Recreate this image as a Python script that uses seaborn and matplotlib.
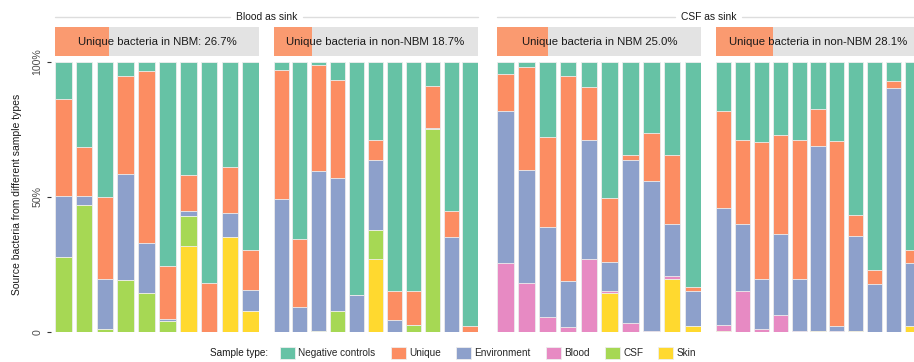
import matplotlib
matplotlib.use("Agg")
import matplotlib.pyplot as plt
from matplotlib.patches import Rectangle, Patch
from matplotlib.lines import Line2D
import pandas as pd
import seaborn as sns

# ---------------------------------------------------------------- data
# stacking order, bottom -> top
sources = ["Skin", "CSF", "Blood", "Environment", "Unique", "Negative controls"]
legend_order = ["Negative controls", "Unique", "Environment", "Blood", "CSF", "Skin"]
palette = {
    "Negative controls": "#66C2A5",
    "Unique": "#FC8D62",
    "Environment": "#8DA0CB",
    "Blood": "#E78AC3",
    "CSF": "#A6D854",
    "Skin": "#FFD92F",
}

sink_titles = ["Blood as sink", "CSF as sink"]
strip_labels = [
    "Unique bacteria in NBM: 26.7%",
    "Unique bacteria in non-NBM 18.7%",
    "Unique bacteria in NBM 25.0%",
    "Unique bacteria in non-NBM 28.1%",
]
unique_pct = [26.7, 18.7, 25.0, 28.1]

# Blood as sink, NBM (10 samples)
blood_nbm_skin = [0, 0, 0, 0, 0, 0, 31.8, 0, 35.2, 7.6]
blood_nbm_csf = [27.6, 46.8, 1.1, 19.1, 14.4, 4.2, 11.2, 0, 0, 0]
blood_nbm_blood = [0, 0, 0, 0, 0, 0, 0, 0, 0, 0]
blood_nbm_env = [22.6, 3.4, 18.6, 39.4, 18.6, 0.7, 1.7, 0, 8.8, 8.0]
blood_nbm_unique = [35.9, 18.3, 30.3, 36.1, 63.6, 19.6, 13.3, 18.2, 17.1, 14.9]
blood_nbm_neg = [13.9, 31.5, 50.0, 5.4, 3.4, 75.5, 42.0, 81.8, 38.9, 69.5]

# Blood as sink, non-NBM (11 samples)
blood_non_skin = [0, 0, 0, 0, 0, 27.1, 0, 0, 0, 0, 0]
blood_non_csf = [0, 0, 0.5, 7.6, 0, 10.7, 0, 2.5, 75.1, 0, 0]
blood_non_blood = [0, 0, 0, 0, 0, 0, 0, 0, 0, 0, 0]
blood_non_env = [49.3, 9.2, 58.9, 49.5, 13.8, 26.0, 4.6, 0, 0.5, 35.1, 0]
blood_non_unique = [47.6, 25.2, 39.2, 36.2, 0, 7.1, 10.4, 12.5, 15.5, 9.5, 2.1]
blood_non_neg = [3.1, 65.6, 1.4, 6.7, 86.2, 29.1, 85.0, 85.0, 8.9, 55.4, 97.9]

# CSF as sink, NBM (10 samples)
csf_nbm_skin = [0, 0, 0, 0, 0, 14.4, 0, 0, 19.5, 2.2]
csf_nbm_csf = [0, 0, 0, 0, 0, 0, 0, 0, 0, 0]
csf_nbm_blood = [25.4, 18.2, 5.4, 1.7, 27.1, 0.9, 3.2, 0.2, 1.4, 0]
csf_nbm_env = [56.3, 41.9, 33.4, 17.0, 44.0, 10.6, 60.3, 55.6, 19.1, 13.1]
csf_nbm_unique = [13.9, 38.1, 33.2, 76.0, 19.4, 23.7, 1.9, 17.7, 25.4, 1.2]
csf_nbm_neg = [4.4, 1.8, 28.0, 5.3, 9.5, 50.4, 34.6, 26.5, 34.6, 83.5]

# CSF as sink, non-NBM (11 samples)
csf_non_skin = [0.5, 0, 0, 0, 0, 0.2, 0, 0.5, 0, 0, 2.1]
csf_non_csf = [0, 0, 0, 0, 0, 0, 0, 0, 0, 0, 0]
csf_non_blood = [2.0, 15.1, 1.2, 6.2, 0.5, 0, 0.2, 0, 0, 0, 0]
csf_non_env = [43.2, 24.9, 18.5, 29.9, 19.0, 68.6, 1.9, 35.0, 17.7, 90.4, 23.3]
csf_non_unique = [36.1, 31.2, 50.7, 36.7, 51.4, 13.7, 68.6, 7.8, 5.1, 2.5, 5.0]
csf_non_neg = [18.2, 28.8, 29.6, 27.2, 29.1, 17.5, 29.3, 56.7, 77.2, 7.1, 69.6]

panels = [
    [blood_nbm_skin, blood_nbm_csf, blood_nbm_blood, blood_nbm_env, blood_nbm_unique, blood_nbm_neg],
    [blood_non_skin, blood_non_csf, blood_non_blood, blood_non_env, blood_non_unique, blood_non_neg],
    [csf_nbm_skin, csf_nbm_csf, csf_nbm_blood, csf_nbm_env, csf_nbm_unique, csf_nbm_neg],
    [csf_non_skin, csf_non_csf, csf_non_blood, csf_non_env, csf_non_unique, csf_non_neg],
]

# ---------------------------------------------------------------- style
sns.set_theme(style="white")
plt.rcParams["font.family"] = ["Liberation Sans", "DejaVu Sans"]
plt.rcParams["ytick.left"] = True

W, H = 914, 362
fig = plt.figure(figsize=(W / 100, H / 100), dpi=100)

panel_left = [55, 273.5, 497.3, 716]
panel_w = 204
panel_top, panel_bot = 61.7, 332.0
strip_top, strip_bot = 27.3, 56.0
bar_w = 0.8
edge = "#EEEEEE"

ph = panel_bot - panel_top
axes = []
for i, layers in enumerate(panels):
    ax = fig.add_axes([panel_left[i] / W, 1 - panel_bot / H, panel_w / W, ph / H])
    axes.append(ax)
    n = len(layers[0])
    rows = []
    for src, vals in zip(sources, layers):
        for j, v in enumerate(vals):
            rows.append({"sample": str(j), "source": src, "value": v})
    df = pd.DataFrame(rows)
    df["source"] = pd.Categorical(df["source"], sources, ordered=True)
    df = df.sort_values(["sample", "source"])
    df["top"] = df.groupby("sample", observed=True)["value"].cumsum()
    order = [str(j) for j in range(n)]
    # draw cumulative layers from the top of the stack downwards
    for src in reversed(sources):
        sub = df[df["source"] == src]
        sns.barplot(data=sub, x="sample", y="top", order=order, color=palette[src],
                    saturation=1, width=bar_w, edgecolor=edge, linewidth=0.6,
                    errorbar=None, ax=ax)
    ax.set_xlim(-bar_w / 2, n - 1 + bar_w / 2)
    ax.set_ylim(0, 100)
    ax.set_xlabel("")
    ax.set_ylabel("")
    ax.set_xticks([])
    for s in ax.spines.values():
        s.set_visible(False)

    # facet strip with a filled share of unique bacteria
    y0 = 1 + (panel_top - strip_bot) / ph
    sh = (strip_bot - strip_top) / ph
    ax.add_patch(Rectangle((0, y0), 1, sh, transform=ax.transAxes, clip_on=False,
                           facecolor="#E3E3E3", edgecolor="none"))
    ax.add_patch(Rectangle((0, y0), unique_pct[i] / 100, sh, transform=ax.transAxes,
                           clip_on=False, facecolor="#FA9A70", edgecolor="none"))
    ax.text(0.5, y0 + sh / 2, strip_labels[i], transform=ax.transAxes,
            ha="center", va="center", fontsize=8.2, color="#1A1A1A")

    if i == 0:
        ax.spines["left"].set_position(("outward", 4 * 0.72))
        ax.set_yticks([0, 50, 100])
        ax.set_yticklabels(["0", "50%", "100%"], rotation=90, va="center",
                           fontsize=7.6, color="#4D4D4D")
        ax.tick_params(axis="y", left=True, length=2.9, width=0.8,
                       color="#333333", pad=3.4)
    else:
        ax.set_yticks([])
        ax.tick_params(left=False, labelleft=False)

fig.text(17 / W, 1 - 194 / H, "Source bacteria from different sample types",
         rotation=90, ha="center", va="center", fontsize=7.5, color="#1A1A1A")

# sink titles spanning each pair of panels, with rules on either side
fig.canvas.draw()
renderer = fig.canvas.get_renderer()
title_y = 16.5
groups = [(panel_left[0], panel_left[1] + panel_w), (panel_left[2], panel_left[3] + panel_w)]
for (gl, gr), title in zip(groups, sink_titles):
    cx = (gl + gr) / 2
    t = fig.text(cx / W, 1 - title_y / H, title, ha="center", va="center",
                 fontsize=7.4, color="#1A1A1A")
    bb = t.get_window_extent(renderer)
    gap = 6
    for x0, x1 in [(gl, bb.x0 - gap), (bb.x1 + gap, gr)]:
        fig.add_artist(Line2D([x0 / W, x1 / W], [1 - title_y / H] * 2,
                              transform=fig.transFigure, color="#DDDDDD", lw=1.0))

# legend along the bottom
handles = [Patch(facecolor=palette[s], edgecolor=edge, linewidth=0.6) for s in legend_order]
leg_y = 1 - 353 / H
fig.text(210 / W, leg_y, "Sample type:", ha="left", va="center", fontsize=7.2, color="#1A1A1A")
fig.legend(handles, legend_order, loc="center left", bbox_to_anchor=(280 / W, leg_y),
           ncol=6, frameon=False, fontsize=7.2, handlelength=1.5, handleheight=1.5,
           handletextpad=0.35, columnspacing=1.5, borderpad=0, borderaxespad=0)

fig.savefig("out.png", dpi=100)
